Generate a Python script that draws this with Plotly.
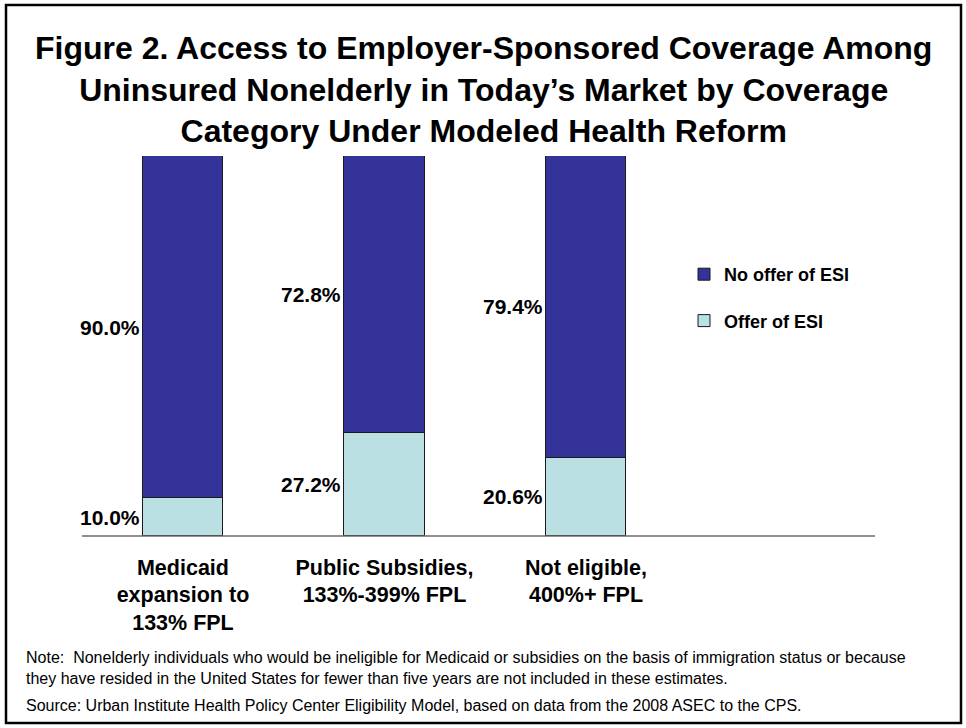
import plotly.graph_objects as go

categories = ["Medicaid<br>expansion to<br>133% FPL",
              "Public Subsidies,<br>133%-399% FPL",
              "Not eligible,<br>400%+ FPL"]
offer_esi = [10.0, 27.2, 20.6]
no_offer_esi = [90.0, 72.8, 79.4]
series_names = ["Offer of ESI", "No offer of ESI"]

title_text = ("Figure 2. Access to Employer-Sponsored Coverage Among<br>"
              "Uninsured Nonelderly in Today\u2019s Market by Coverage<br>"
              "Category Under Modeled Health Reform")
note_text = ("Note:  Nonelderly individuals who would be ineligible for Medicaid or subsidies on the basis of immigration status or because<br>"
             "they have resided in the United States for fewer than five years are not included in these estimates.")
source_text = "Source: Urban Institute Health Policy Center Eligibility Model, based on data from the 2008 ASEC to the CPS."

W, H = 966, 728
L, R, T, B = 82, 91, 156, 192
PW, PH = W - L - R, H - T - B

def px(x):
    return (x - L) / PW

def py(y):
    return (H - B - y) / PH

FONT = "Arial, Liberation Sans, sans-serif"
DARK = "#333399"
LIGHT = "#BBE0E3"

xs = list(range(len(categories)))
bw = 0.4

fig = go.Figure()
fig.add_trace(go.Bar(x=xs, y=offer_esi, name=series_names[0], width=bw,
                     marker=dict(color=LIGHT, line=dict(color="#1a1a1a", width=1)),
                     legendgroup="a", legendrank=2, hoverinfo="y"))
fig.add_trace(go.Bar(x=xs, y=no_offer_esi, name=series_names[1], width=bw,
                     marker=dict(color=DARK, line=dict(color="#1a1a1a", width=1)),
                     legendgroup="b", legendrank=1, hoverinfo="y"))

annotations = []
for i in xs:
    for base, val in ((0, offer_esi[i]), (offer_esi[i], no_offer_esi[i])):
        annotations.append(dict(x=i - bw / 2, y=base + val / 2, xref="x", yref="y",
                                text=f"{val:.1f}%", showarrow=False,
                                xanchor="right", yanchor="middle", xshift=-1,
                                font=dict(family=FONT, size=21, color="black", weight="bold")))

annotations.append(dict(x=px(483), y=py(90), xref="paper", yref="paper", text=title_text,
                        showarrow=False, xanchor="center", yanchor="middle", align="center",
                        font=dict(family=FONT, size=32, color="black", weight="bold")))
annotations.append(dict(x=px(24), y=py(668), xref="paper", yref="paper", text=note_text,
                        showarrow=False, xanchor="left", yanchor="middle", align="left",
                        font=dict(family=FONT, size=16, color="black")))
annotations.append(dict(x=px(24), y=py(705), xref="paper", yref="paper", text=source_text,
                        showarrow=False, xanchor="left", yanchor="middle", align="left",
                        font=dict(family=FONT, size=16, color="black")))

fig.update_layout(
    width=W, height=H,
    margin=dict(l=L, r=R, t=T, b=B),
    paper_bgcolor="white", plot_bgcolor="white",
    barmode="stack", bargap=0,
    xaxis=dict(range=[-0.501, 3.434], tickvals=xs, ticktext=categories,
               showgrid=False, zeroline=False, showline=False, ticks="",
               ticklabelstandoff=16,
               tickfont=dict(family=FONT, size=21.5, color="black", weight="bold")),
    yaxis=dict(range=[0, 100], visible=False, showgrid=False, zeroline=False),
    legend=dict(x=px(684), y=py(256), xanchor="left", yanchor="top",
                traceorder="grouped", tracegroupgap=20, itemwidth=30,
                font=dict(family=FONT, size=18, color="black", weight="bold"),
                bgcolor="rgba(0,0,0,0)"),
    annotations=annotations,
    shapes=[
        dict(type="line", xref="paper", yref="paper", x0=0, x1=1, y0=0, y1=0,
             line=dict(color="#6b6b6b", width=1.5), layer="above"),
        dict(type="rect", xref="paper", yref="paper", x0=px(6), x1=px(961),
             y0=py(723), y1=py(5), line=dict(color="black", width=2.5)),
    ],
)

fig.write_html("out.html", config={"displayModeBar": False},
               post_script="document.body.style.margin='0';document.body.style.padding='0';")
